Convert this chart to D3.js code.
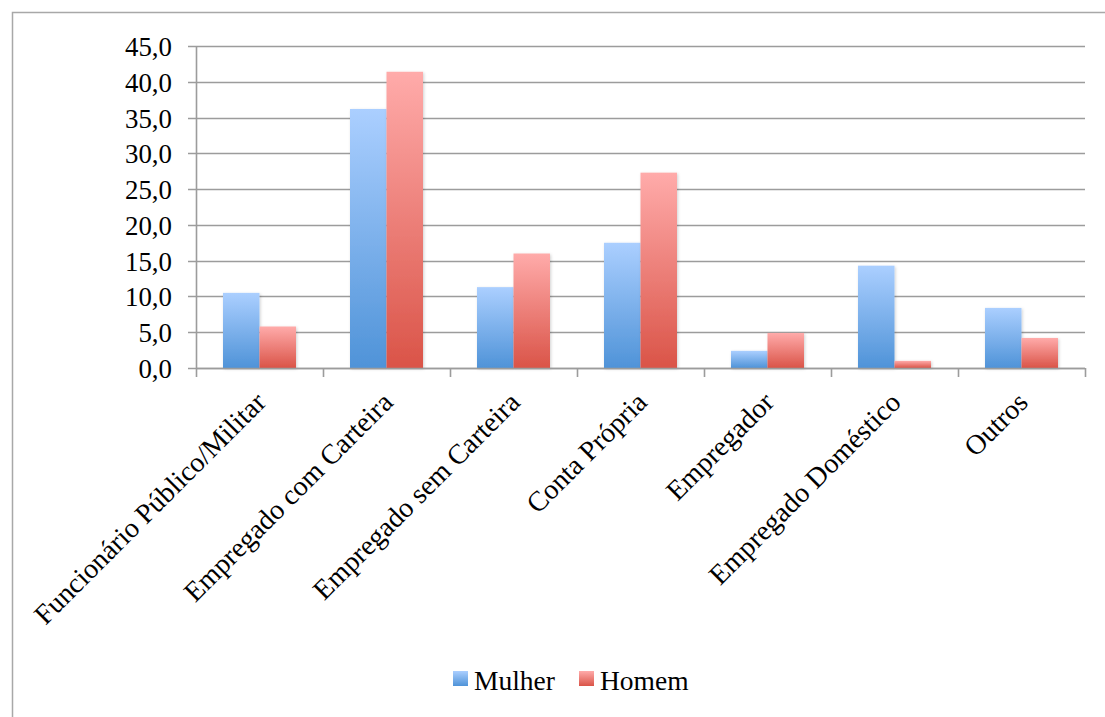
<!DOCTYPE html>
<html>
<head>
<meta charset="utf-8">
<script src="https://cdn.jsdelivr.net/npm/d3@7"></script>
<style>
  body { margin: 0; background: #fff; }
  svg { display: block; }
  text { font-family: "Liberation Serif", "DejaVu Serif", serif; fill: #000; }
</style>
</head>
<body>
<svg id="chart" width="1105" height="717"></svg>
<script>
// Categories and series
const categories = ['Funcionário Público/Militar', 'Empregado com Carteira', 'Empregado sem Carteira',
  'Conta Própria', 'Empregador', 'Empregado Doméstico', 'Outros'];
const seriesNames = ['Mulher', 'Homem'];
const mulher = [10.5, 36.2, 11.3, 17.5, 2.4, 14.3, 8.4];
const homem = [5.8, 41.4, 16.0, 27.3, 4.9, 1.0, 4.2];
const yTicks = [0, 5, 10, 15, 20, 25, 30, 35, 40, 45];

const svg = d3.select('#chart');
const gridColor = '#9c9c9c';

// scale font so that a sample text gets the width seen in the picture
function fitFont(sel, sampleNode, target) {
  const w = sampleNode.getComputedTextLength();
  const size = parseFloat(sel.style('font-size'));
  sel.style('font-size', (size * target / w).toFixed(2) + 'px');
}

// Outer frame
svg.append('path')
  .attr('d', 'M12.5,717 L12.5,12.5 L1105,12.5')
  .attr('fill', 'none').attr('stroke', '#a8a8a8').attr('stroke-width', 1.5);

const plotLeft = 196, plotRight = 1085, plotTop = 46, plotBottom = 368;

const x0 = d3.scaleBand().domain(categories).range([plotLeft, plotRight]).padding(0);
const x1 = d3.scaleBand().domain(seriesNames).range([0, x0.bandwidth()]).paddingInner(0).paddingOuter(0.74);
const y = d3.scaleLinear().domain([0, 45]).range([plotBottom, plotTop]);

// Gradients and shadow
const defs = svg.append('defs');
const grads = { Mulher: ['#abcfff', '#4f93d8'], Homem: ['#ffabaa', '#da5448'] };
Object.entries(grads).forEach(([k, c]) => {
  const g = defs.append('linearGradient').attr('id', 'g' + k)
    .attr('x1', 0).attr('y1', 0).attr('x2', 0).attr('y2', 1);
  g.append('stop').attr('offset', '0%').attr('stop-color', c[0]);
  g.append('stop').attr('offset', '100%').attr('stop-color', c[1]);
});
const f = defs.append('filter').attr('id', 'shadow').attr('x', '-20%').attr('y', '-20%').attr('width', '140%').attr('height', '140%');
f.append('feDropShadow').attr('dx', 1).attr('dy', 1).attr('stdDeviation', 1.5).attr('flood-color', '#000').attr('flood-opacity', 0.18);

// Gridlines
svg.append('g').selectAll('line').data(yTicks).join('line')
  .attr('x1', plotLeft - 8).attr('x2', plotRight)
  .attr('y1', d => Math.round(y(d)) + 0.5).attr('y2', d => Math.round(y(d)) + 0.5)
  .attr('stroke', gridColor).attr('stroke-width', 1.6);

// Y axis line
svg.append('line').attr('x1', plotLeft + 0.5).attr('x2', plotLeft + 0.5)
  .attr('y1', plotTop).attr('y2', plotBottom).attr('stroke', gridColor).attr('stroke-width', 1.6);

// Y labels
const fmt = d => d3.format('.1f')(d).replace('.', ',');
const yLab = svg.append('g').style('font-size', '27px');
yLab.selectAll('text').data(yTicks).join('text')
  .attr('x', 172).attr('y', d => y(d) + 1)
  .attr('text-anchor', 'end').attr('dominant-baseline', 'central')
  .text(fmt);
fitFont(yLab, yLab.selectAll('text').filter(d => d === 45).node(), 47);

// Bars
const data = categories.map((c, i) => ({ cat: c, vals: [{ s: 'Mulher', v: mulher[i] }, { s: 'Homem', v: homem[i] }] }));
const groups = svg.append('g').selectAll('g').data(data).join('g')
  .attr('transform', d => `translate(${x0(d.cat)},0)`);
groups.selectAll('rect').data(d => d.vals).join('rect')
  .attr('x', d => x1(d.s))
  .attr('y', d => y(d.v))
  .attr('width', x1.bandwidth())
  .attr('height', d => plotBottom - y(d.v))
  .attr('fill', d => `url(#g${d.s})`)
  .attr('filter', 'url(#shadow)');

// X axis baseline and ticks
svg.append('line').attr('x1', plotLeft).attr('x2', plotRight)
  .attr('y1', plotBottom + 0.5).attr('y2', plotBottom + 0.5).attr('stroke', gridColor).attr('stroke-width', 1.6);
const bounds = categories.map(c => x0(c)).concat([plotRight]);
svg.append('g').selectAll('line').data(bounds).join('line')
  .attr('x1', d => d + 0.5).attr('x2', d => d + 0.5)
  .attr('y1', plotBottom).attr('y2', plotBottom + 9)
  .attr('stroke', gridColor).attr('stroke-width', 1.6);

// Category labels, rotated
const xLab = svg.append('g').style('font-size', '28px');
xLab.selectAll('text').data(categories).join('text')
  .attr('text-anchor', 'end')
  .attr('transform', d => `translate(${x0(d) + x0.bandwidth() / 2 + 8},404) rotate(-45)`)
  .text(d => d);
fitFont(xLab, xLab.select('text').node(), 314);

// Legend
const legend = svg.append('g').attr('transform', 'translate(453,671)').style('font-size', '27px');
const legendX = [0, 126];
seriesNames.forEach((s, i) => {
  legend.append('rect').attr('x', legendX[i]).attr('y', 0).attr('width', 15).attr('height', 15)
    .attr('fill', `url(#g${s})`);
  legend.append('text').attr('x', legendX[i] + 21).attr('y', 19).text(s);
});
fitFont(legend, legend.select('text').node(), 81);
</script>
</body>
</html>
